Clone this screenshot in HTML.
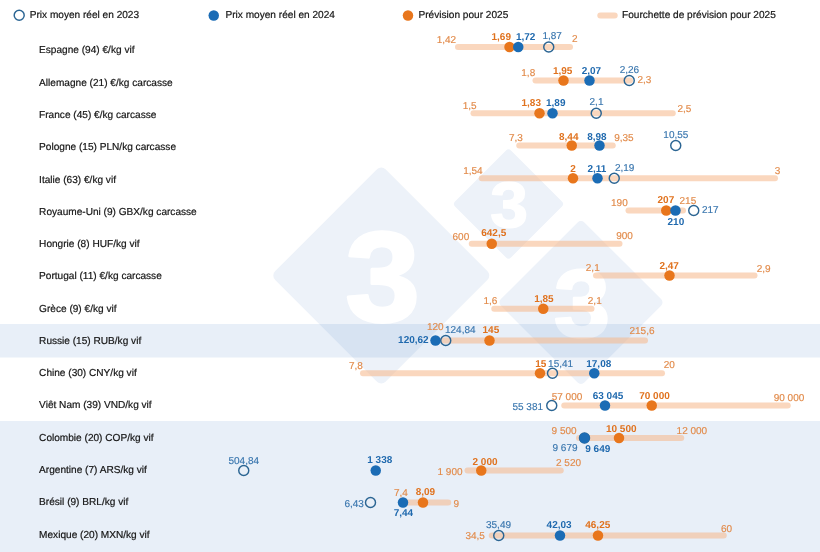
<!DOCTYPE html>
<html lang="fr">
<head>
<meta charset="utf-8">
<title>Prix du porc : prévisions 2025</title>
<style>
html,body{margin:0;padding:0;background:#fff;}
body{width:820px;height:552px;overflow:hidden;font-family:"Liberation Sans",sans-serif;}
svg{display:block;will-change:transform;}
text{font-family:"Liberation Sans",sans-serif;font-size:10px;text-rendering:geometricPrecision;}
.lbl{fill:#151515;stroke:#151515;stroke-width:0.2px;}
.rl{font-size:10.1px;}
.L{fill:#E28A49;stroke:#E28A49;stroke-width:0.15px;}
.OB{fill:#E0721E;font-weight:700;}
.BB{fill:#1F69AE;font-weight:700;}
.b{fill:#3976AE;stroke:#3976AE;stroke-width:0.15px;}
.m{text-anchor:middle;}
</style>
</head>
<body>
<svg width="820" height="552" viewBox="0 0 820 552">
<rect x="0" y="0" width="820" height="552" fill="#ffffff"/>
<g id="watermark">
<rect x="303.18" y="197.38" width="156.25" height="156.25" rx="6.0" ry="6.0" transform="rotate(45 381.3 275.5)" fill="#EDF2F9"/>
<rect x="468.93" y="164.43" width="79.14" height="79.14" rx="3.5231481481481484" ry="3.5231481481481484" transform="rotate(45 508.5 204)" fill="#EDF2F9"/>
<rect x="521.97" y="243.47" width="118.05" height="118.05" rx="4.773148148148149" ry="4.773148148148149" transform="rotate(45 581 302.5)" fill="#EDF2F9"/>
<text x="0" y="0" class="m" transform="translate(382.64 320.90) scale(1.05 1)" style="font-size:128.00px;font-weight:700;fill:#fff;stroke:#fff;stroke-width:3.00px;stroke-linejoin:round">3</text>
<text x="0" y="0" class="m" transform="translate(509.18 226.91) scale(1.05 1)" style="font-size:64.59px;font-weight:700;fill:#fff;stroke:#fff;stroke-width:1.51px;stroke-linejoin:round">3</text>
<text x="0" y="0" class="m" transform="translate(582.01 336.76) scale(1.05 1)" style="font-size:96.59px;font-weight:700;fill:#fff;stroke:#fff;stroke-width:2.26px;stroke-linejoin:round">3</text>
</g>
<rect x="0" y="324" width="820" height="33.5" fill="rgba(27,100,190,0.10)"/>
<rect x="0" y="421" width="820" height="131" fill="rgba(27,100,190,0.10)"/>
<g id="legend">
<circle cx="19.2" cy="15.2" r="5.0" fill="none" stroke="#2B6593" stroke-width="1.45"/>
<text x="29.7" y="18.3" class="lbl rl">Prix moyen réel en 2023</text>
<circle cx="213.75" cy="15.5" r="5.25" fill="#1B6CB5"/>
<text x="225.5" y="18.3" class="lbl rl">Prix moyen réel en 2024</text>
<circle cx="408" cy="15.5" r="5.25" fill="#E8761C"/>
<text x="418.5" y="18.3" class="lbl rl">Prévision pour 2025</text>
<line x1="600.3" y1="15.5" x2="614.7" y2="15.5" stroke="rgba(246,185,141,0.57)" stroke-width="6.0" stroke-linecap="round"/>
<text x="622" y="18.3" class="lbl rl">Fourchette de prévision pour 2025</text>
</g>
<g id="row1">
<text x="39.1" y="53.40" class="lbl rl">Espagne (94) €/kg vif</text>
<line x1="458.00" y1="47" x2="570.00" y2="47" stroke="rgba(246,185,141,0.57)" stroke-width="6.0" stroke-linecap="round"/>
<circle cx="509.5" cy="47" r="5.25" fill="#E8761C"/>
<circle cx="518.25" cy="47" r="5.25" fill="#1B6CB5"/>
<circle cx="548.75" cy="47" r="5.0" fill="none" stroke="#2B6593" stroke-width="1.45"/>
<text x="446.38" y="43.10" class="m L">1,42</text>
<text x="501.25" y="39.85" class="m OB">1,69</text>
<text x="525.62" y="39.85" class="m BB">1,72</text>
<text x="552.12" y="39.10" class="m b">1,87</text>
<text x="574.75" y="42.35" class="m L">2</text>
</g>
<g id="row2">
<text x="39.1" y="85.68" class="lbl rl">Allemagne (21) €/kg carcasse</text>
<line x1="535.50" y1="80.5" x2="630.00" y2="80.5" stroke="rgba(246,185,141,0.57)" stroke-width="6.0" stroke-linecap="round"/>
<circle cx="563.5" cy="80.5" r="5.25" fill="#E8761C"/>
<circle cx="589.5" cy="80.5" r="5.25" fill="#1B6CB5"/>
<circle cx="629.25" cy="80.5" r="5.0" fill="none" stroke="#2B6593" stroke-width="1.45"/>
<text x="528.25" y="76.10" class="m L">1,8</text>
<text x="562.62" y="73.60" class="m OB">1,95</text>
<text x="591.38" y="73.60" class="m BB">2,07</text>
<text x="629.38" y="73.10" class="m b">2,26</text>
<text x="644.38" y="83.10" class="m L">2,3</text>
</g>
<g id="row3">
<text x="39.1" y="117.96" class="lbl rl">France (45) €/kg carcasse</text>
<line x1="473.50" y1="113.25" x2="672.75" y2="113.25" stroke="rgba(246,185,141,0.57)" stroke-width="6.0" stroke-linecap="round"/>
<circle cx="539.5" cy="113.25" r="5.25" fill="#E8761C"/>
<circle cx="552.5" cy="113.25" r="5.25" fill="#1B6CB5"/>
<circle cx="596.25" cy="113.25" r="5.0" fill="none" stroke="#2B6593" stroke-width="1.45"/>
<text x="469.62" y="109.10" class="m L">1,5</text>
<text x="531.25" y="106.10" class="m OB">1,83</text>
<text x="555.75" y="106.10" class="m BB">1,89</text>
<text x="596.50" y="104.85" class="m b">2,1</text>
<text x="684.38" y="111.60" class="m L">2,5</text>
</g>
<g id="row4">
<text x="39.1" y="150.24" class="lbl rl">Pologne (15) PLN/kg carcasse</text>
<line x1="519.25" y1="145.5" x2="612.75" y2="145.5" stroke="rgba(246,185,141,0.57)" stroke-width="6.0" stroke-linecap="round"/>
<circle cx="571.75" cy="145.5" r="5.25" fill="#E8761C"/>
<circle cx="599.5" cy="145.5" r="5.25" fill="#1B6CB5"/>
<circle cx="675.75" cy="145.5" r="5.0" fill="none" stroke="#2B6593" stroke-width="1.45"/>
<text x="515.88" y="141.10" class="m L">7,3</text>
<text x="568.75" y="139.85" class="m OB">8,44</text>
<text x="596.88" y="139.85" class="m BB">8,98</text>
<text x="623.88" y="141.10" class="m L">9,35</text>
<text x="675.88" y="138.10" class="m b">10,55</text>
</g>
<g id="row5">
<text x="39.1" y="182.52" class="lbl rl">Italie (63) €/kg vif</text>
<line x1="481.75" y1="178.25" x2="775.00" y2="178.25" stroke="rgba(246,185,141,0.57)" stroke-width="6.0" stroke-linecap="round"/>
<circle cx="573" cy="178.25" r="5.25" fill="#E8761C"/>
<circle cx="597.5" cy="178.25" r="5.25" fill="#1B6CB5"/>
<circle cx="614.25" cy="178.25" r="5.0" fill="none" stroke="#2B6593" stroke-width="1.45"/>
<text x="472.88" y="174.10" class="m L">1,54</text>
<text x="573.00" y="171.85" class="m OB">2</text>
<text x="596.88" y="171.85" class="m BB">2,11</text>
<text x="624.62" y="170.60" class="m b">2,19</text>
<text x="777.50" y="173.60" class="m L">3</text>
</g>
<g id="row6">
<text x="39.1" y="214.80" class="lbl rl">Royaume-Uni (9) GBX/kg carcasse</text>
<line x1="628.50" y1="210.5" x2="683.00" y2="210.5" stroke="rgba(246,185,141,0.57)" stroke-width="6.0" stroke-linecap="round"/>
<circle cx="666.25" cy="210.5" r="5.25" fill="#E8761C"/>
<circle cx="675.5" cy="210.5" r="5.25" fill="#1B6CB5"/>
<circle cx="693.75" cy="210.5" r="5.0" fill="none" stroke="#2B6593" stroke-width="1.45"/>
<text x="619.38" y="206.10" class="m L">190</text>
<text x="665.88" y="203.10" class="m OB">207</text>
<text x="687.88" y="204.10" class="m L">215</text>
<text x="710.25" y="213.10" class="m b">217</text>
<text x="675.88" y="224.85" class="m BB">210</text>
</g>
<g id="row7">
<text x="39.1" y="247.08" class="lbl rl">Hongrie (8) HUF/kg vif</text>
<line x1="471.75" y1="243.75" x2="619.50" y2="243.75" stroke="rgba(246,185,141,0.57)" stroke-width="6.0" stroke-linecap="round"/>
<circle cx="491.75" cy="243.75" r="5.25" fill="#E8761C"/>
<text x="460.88" y="240.35" class="m L">600</text>
<text x="493.75" y="236.10" class="m OB">642,5</text>
<text x="624.50" y="238.60" class="m L">900</text>
</g>
<g id="row8">
<text x="39.1" y="279.36" class="lbl rl">Portugal (11) €/kg carcasse</text>
<line x1="596.00" y1="275.5" x2="754.50" y2="275.5" stroke="rgba(246,185,141,0.57)" stroke-width="6.0" stroke-linecap="round"/>
<circle cx="669.5" cy="275.5" r="5.25" fill="#E8761C"/>
<text x="592.75" y="270.60" class="m L">2,1</text>
<text x="669.12" y="269.10" class="m OB">2,47</text>
<text x="763.62" y="271.60" class="m L">2,9</text>
</g>
<g id="row9">
<text x="39.1" y="311.64" class="lbl rl">Grèce (9) €/kg vif</text>
<line x1="494.25" y1="308.75" x2="591.50" y2="308.75" stroke="rgba(246,185,141,0.57)" stroke-width="6.0" stroke-linecap="round"/>
<circle cx="543.25" cy="308.75" r="5.25" fill="#E8761C"/>
<text x="490.38" y="304.10" class="m L">1,6</text>
<text x="543.88" y="301.60" class="m OB">1,85</text>
<text x="594.75" y="304.10" class="m L">2,1</text>
</g>
<g id="row10">
<text x="39.1" y="343.92" class="lbl rl">Russie (15) RUB/kg vif</text>
<line x1="444.00" y1="340.5" x2="645.00" y2="340.5" stroke="rgba(246,185,141,0.57)" stroke-width="6.0" stroke-linecap="round"/>
<circle cx="435.5" cy="340.5" r="5.25" fill="#1B6CB5"/>
<circle cx="445.75" cy="340.5" r="5.0" fill="none" stroke="#2B6593" stroke-width="1.45"/>
<circle cx="489.5" cy="340.5" r="5.25" fill="#E8761C"/>
<text x="413.38" y="343.10" class="m BB">120,62</text>
<text x="435.25" y="330.35" class="m L">120</text>
<text x="460.25" y="333.10" class="m b">124,84</text>
<text x="490.88" y="333.10" class="m OB">145</text>
<text x="642.00" y="334.10" class="m L">215,6</text>
</g>
<g id="row11">
<text x="39.1" y="376.20" class="lbl rl">Chine (30) CNY/kg vif</text>
<line x1="363.00" y1="373.25" x2="662.00" y2="373.25" stroke="rgba(246,185,141,0.57)" stroke-width="6.0" stroke-linecap="round"/>
<circle cx="540" cy="373.25" r="5.25" fill="#E8761C"/>
<circle cx="552.5" cy="373.25" r="5.0" fill="none" stroke="#2B6593" stroke-width="1.45"/>
<circle cx="594.25" cy="373.25" r="5.25" fill="#1B6CB5"/>
<text x="355.88" y="369.10" class="m L">7,8</text>
<text x="540.75" y="366.60" class="m OB">15</text>
<text x="560.62" y="366.60" class="m b">15,41</text>
<text x="598.75" y="366.60" class="m BB">17,08</text>
<text x="669.25" y="368.10" class="m L">20</text>
</g>
<g id="row12">
<text x="39.1" y="408.48" class="lbl rl">Viêt Nam (39) VND/kg vif</text>
<line x1="564.25" y1="405.5" x2="787.75" y2="405.5" stroke="rgba(246,185,141,0.57)" stroke-width="6.0" stroke-linecap="round"/>
<circle cx="551.75" cy="405.5" r="5.0" fill="none" stroke="#2B6593" stroke-width="1.45"/>
<circle cx="605" cy="405.5" r="5.25" fill="#1B6CB5"/>
<circle cx="651.75" cy="405.5" r="5.25" fill="#E8761C"/>
<text x="527.75" y="410.35" class="m b">55 381</text>
<text x="567.00" y="399.85" class="m L">57 000</text>
<text x="608.00" y="399.10" class="m BB">63 045</text>
<text x="654.50" y="399.10" class="m OB">70 000</text>
<text x="789.00" y="400.60" class="m L">90 000</text>
</g>
<g id="row13">
<text x="39.1" y="440.76" class="lbl rl">Colombie (20) COP/kg vif</text>
<line x1="579.00" y1="438" x2="681.25" y2="438" stroke="rgba(246,185,141,0.57)" stroke-width="6.0" stroke-linecap="round"/>
<circle cx="584.5" cy="438" r="5.0" fill="none" stroke="#2B6593" stroke-width="1.45"/>
<circle cx="584.5" cy="438" r="5.25" fill="#1B6CB5"/>
<circle cx="619" cy="438" r="5.25" fill="#E8761C"/>
<text x="564.12" y="433.60" class="m L">9 500</text>
<text x="621.25" y="432.35" class="m OB">10 500</text>
<text x="691.88" y="433.60" class="m L">12 000</text>
<text x="565.00" y="450.60" class="m b">9 679</text>
<text x="597.75" y="451.85" class="m BB">9 649</text>
</g>
<g id="row14">
<text x="39.1" y="473.04" class="lbl rl">Argentine (7) ARS/kg vif</text>
<line x1="467.50" y1="470.5" x2="560.75" y2="470.5" stroke="rgba(246,185,141,0.57)" stroke-width="6.0" stroke-linecap="round"/>
<circle cx="243.75" cy="470.5" r="5.0" fill="none" stroke="#2B6593" stroke-width="1.45"/>
<circle cx="375.75" cy="470.5" r="5.25" fill="#1B6CB5"/>
<circle cx="481.25" cy="470.5" r="5.25" fill="#E8761C"/>
<text x="243.75" y="463.60" class="m b">504,84</text>
<text x="379.75" y="463.10" class="m BB">1 338</text>
<text x="450.00" y="474.85" class="m L">1 900</text>
<text x="485.00" y="464.85" class="m OB">2 000</text>
<text x="568.50" y="466.10" class="m L">2 520</text>
</g>
<g id="row15">
<text x="39.1" y="505.32" class="lbl rl">Brésil (9) BRL/kg vif</text>
<line x1="406.00" y1="502.5" x2="448.25" y2="502.5" stroke="rgba(246,185,141,0.57)" stroke-width="6.0" stroke-linecap="round"/>
<circle cx="370.5" cy="502.5" r="5.0" fill="none" stroke="#2B6593" stroke-width="1.45"/>
<circle cx="403" cy="502.5" r="5.25" fill="#1B6CB5"/>
<circle cx="423" cy="502.5" r="5.25" fill="#E8761C"/>
<text x="354.12" y="506.60" class="m b">6,43</text>
<text x="400.88" y="495.60" class="m L">7,4</text>
<text x="425.38" y="494.85" class="m OB">8,09</text>
<text x="456.25" y="506.60" class="m L">9</text>
<text x="403.38" y="516.10" class="m BB">7,44</text>
</g>
<g id="row16">
<text x="39.1" y="537.60" class="lbl rl">Mexique (20) MXN/kg vif</text>
<line x1="491.75" y1="535.5" x2="723.75" y2="535.5" stroke="rgba(246,185,141,0.57)" stroke-width="6.0" stroke-linecap="round"/>
<circle cx="498.75" cy="535.5" r="5.0" fill="none" stroke="#2B6593" stroke-width="1.45"/>
<circle cx="560" cy="535.5" r="5.25" fill="#1B6CB5"/>
<circle cx="598" cy="535.5" r="5.25" fill="#E8761C"/>
<text x="475.12" y="538.85" class="m L">34,5</text>
<text x="498.50" y="528.10" class="m b">35,49</text>
<text x="559.12" y="528.10" class="m BB">42,03</text>
<text x="597.75" y="528.10" class="m OB">46,25</text>
<text x="726.62" y="531.85" class="m L">60</text>
</g>
</svg>
</body>
</html>
